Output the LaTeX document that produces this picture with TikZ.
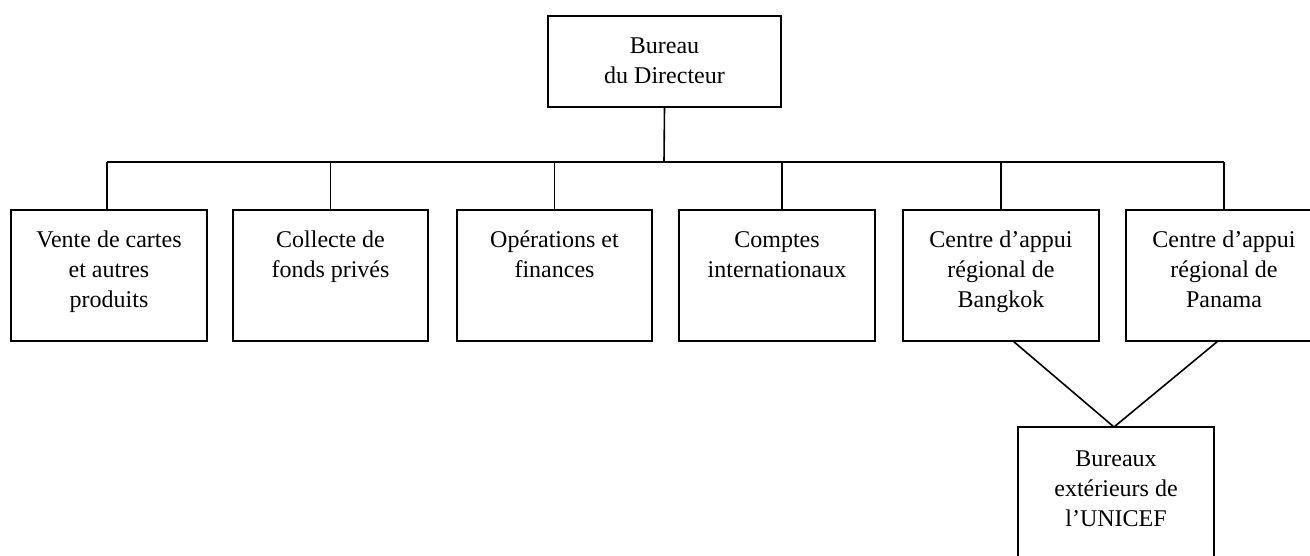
\documentclass[tikz,border=0pt]{standalone}
\usepackage{fontspec}
\setmainfont{Liberation Serif}
\newcommand{\orgtxt}[4]{\parbox[c][#2][t]{#1}{\centering\rule{0pt}{#3}#4\par}}
\begin{document}
\begin{tikzpicture}[x=1pt,y=-1pt, line width=1.6pt,
  box/.style={draw, inner sep=0pt, outer sep=0pt, anchor=north west, font=\fontsize{24}{30}\selectfont},
  link/.style={draw, line width=1.6pt}]
\path[use as bounding box, clip] (0,0) rectangle (1310,555);
\fill[white] (0,0) rectangle (1310,555);
\node[box] (dir) at (548,16) {\orgtxt{233pt}{91pt}{37pt}{Bureau\\du Directeur}};
\node[box] (c1) at (11,210) {\orgtxt{196pt}{131pt}{37pt}{Vente de cartes\\et autres\\produits}};
\node[box] (c2) at (233,210) {\orgtxt{195pt}{131pt}{37pt}{Collecte de\\fonds privés}};
\node[box] (c3) at (457,210) {\orgtxt{195pt}{131pt}{37pt}{Opérations et\\finances}};
\node[box] (c4) at (679,210) {\orgtxt{196pt}{131pt}{37pt}{Comptes\\internationaux}};
\node[box] (c5) at (903,210) {\orgtxt{196pt}{131pt}{37pt}{Centre d’appui\\régional de\\Bangkok}};
\node[box] (c6) at (1126,210) {\orgtxt{196pt}{131pt}{37pt}{Centre d’appui\\régional de\\Panama}};
\node[box] (u) at (1018,427) {\orgtxt{196pt}{160pt}{39pt}{Bureaux\\extérieurs de\\l’UNICEF}};
\coordinate (bus) at (664,162);
\path[link] (dir.south) -- (bus);
\path[link] ([xshift=-2pt]c1.north |- bus) -- (c6.north |- bus);
\path[link] ([xshift=-2pt]c1.north) -- ([xshift=-2pt]c1.north |- bus);
\path[link] (c2.north) -- (c2.north |- bus);
\path[link] (c3.north) -- (c3.north |- bus);
\path[link] ([xshift=5pt]c4.north) -- ([xshift=5pt]c4.north |- bus);
\path[link] (c5.north) -- (c5.north |- bus);
\path[link] (c6.north) -- (c6.north |- bus);
\path[link] ([xshift=110pt]c5.south west) -- ([xshift=-2pt]u.north);
\path[link] ([xshift=92pt]c6.south west) -- ([xshift=-2pt]u.north);
\end{tikzpicture}
\end{document}
